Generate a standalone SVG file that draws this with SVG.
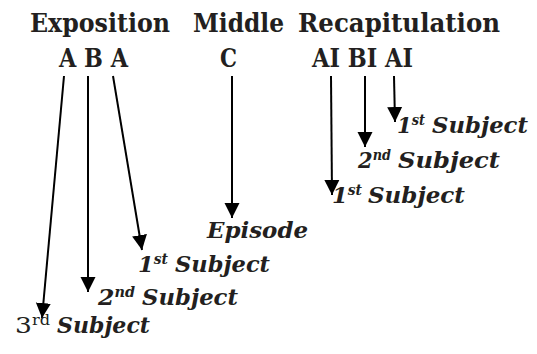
<svg xmlns="http://www.w3.org/2000/svg" width="537" height="354" viewBox="0 0 537 354">
<style>
.h{font-family:"DejaVu Serif","Liberation Serif",serif;font-weight:bold;font-size:26px;fill:#231f20}
.s{font-family:"DejaVu Serif","Liberation Serif",serif;font-weight:bold;font-style:italic;font-size:23px;fill:#231f20}
.sup{font-size:14px}
.r{font-family:"DejaVu Serif","Liberation Serif",serif;font-size:23px;fill:#231f20}
.c{stroke:#000;stroke-width:2;fill:none;marker-end:url(#ah)}
</style>
<defs>
<marker id="ah" markerUnits="userSpaceOnUse" markerWidth="16" markerHeight="16" viewBox="0 0 16 16" refX="15" refY="8" orient="auto">
<path d="M0,0.5 L15,8 L0,15.5 z" fill="#000"/>
</marker>
</defs>
<rect width="537" height="354" fill="#fff"/>
<g id="headers">
<text class="h" x="30" y="32" textLength="140" lengthAdjust="spacingAndGlyphs">Exposition</text>
<text class="h" x="193" y="32" textLength="91" lengthAdjust="spacingAndGlyphs">Middle</text>
<text class="h" x="298" y="32" textLength="202" lengthAdjust="spacingAndGlyphs">Recapitulation</text>
</g>
<g id="node-aba"><text class="h" x="59" y="67" textLength="69" lengthAdjust="spacingAndGlyphs">A B A</text></g>
<g id="node-c"><text class="h" x="220" y="67" textLength="17" lengthAdjust="spacingAndGlyphs">C</text></g>
<g id="node-aibiai"><text class="h" x="312" y="67" textLength="101" lengthAdjust="spacingAndGlyphs">AI BI AI</text></g>
<g id="connectors">
<path class="c" d="M64,76 L42,318"/>
<path class="c" d="M88,76 L88,292"/>
<path class="c" d="M113,76 L142,250"/>
<path class="c" d="M232,76 L232,218"/>
<path class="c" d="M331,76 L332,195"/>
<path class="c" d="M365,76 L365,147"/>
<path class="c" d="M394,76 L395,122"/>
</g>
<g id="episode"><text class="s" x="207" y="238" textLength="101" lengthAdjust="spacingAndGlyphs">Episode</text></g>
<g id="subj-1-left">
<text class="s" x="138" y="272" textLength="30" lengthAdjust="spacingAndGlyphs">1<tspan class="sup" dy="-8">st</tspan></text>
<text class="s" x="175" y="272" textLength="95" lengthAdjust="spacingAndGlyphs">Subject</text>
</g>
<g id="subj-2-left">
<text class="s" x="98" y="305" textLength="37" lengthAdjust="spacingAndGlyphs">2<tspan class="sup" dy="-8">nd</tspan></text>
<text class="s" x="142" y="305" textLength="96" lengthAdjust="spacingAndGlyphs">Subject</text>
</g>
<g id="subj-3-left">
<text class="r" x="15" y="333" textLength="35" lengthAdjust="spacingAndGlyphs">3<tspan class="sup" dy="-8">rd</tspan></text>
<text class="s" x="57" y="333" textLength="93" lengthAdjust="spacingAndGlyphs">Subject</text>
</g>
<g id="subj-1-right-top">
<text class="s" x="397" y="133" textLength="28" lengthAdjust="spacingAndGlyphs">1<tspan class="sup" dy="-8">st</tspan></text>
<text class="s" x="432" y="133" textLength="96" lengthAdjust="spacingAndGlyphs">Subject</text>
</g>
<g id="subj-2-right">
<text class="s" x="358" y="168" textLength="33" lengthAdjust="spacingAndGlyphs">2<tspan class="sup" dy="-8">nd</tspan></text>
<text class="s" x="398" y="168" textLength="102" lengthAdjust="spacingAndGlyphs">Subject</text>
</g>
<g id="subj-1-right-low">
<text class="s" x="332" y="203" textLength="30" lengthAdjust="spacingAndGlyphs">1<tspan class="sup" dy="-8">st</tspan></text>
<text class="s" x="368" y="203" textLength="97" lengthAdjust="spacingAndGlyphs">Subject</text>
</g>
</svg>
